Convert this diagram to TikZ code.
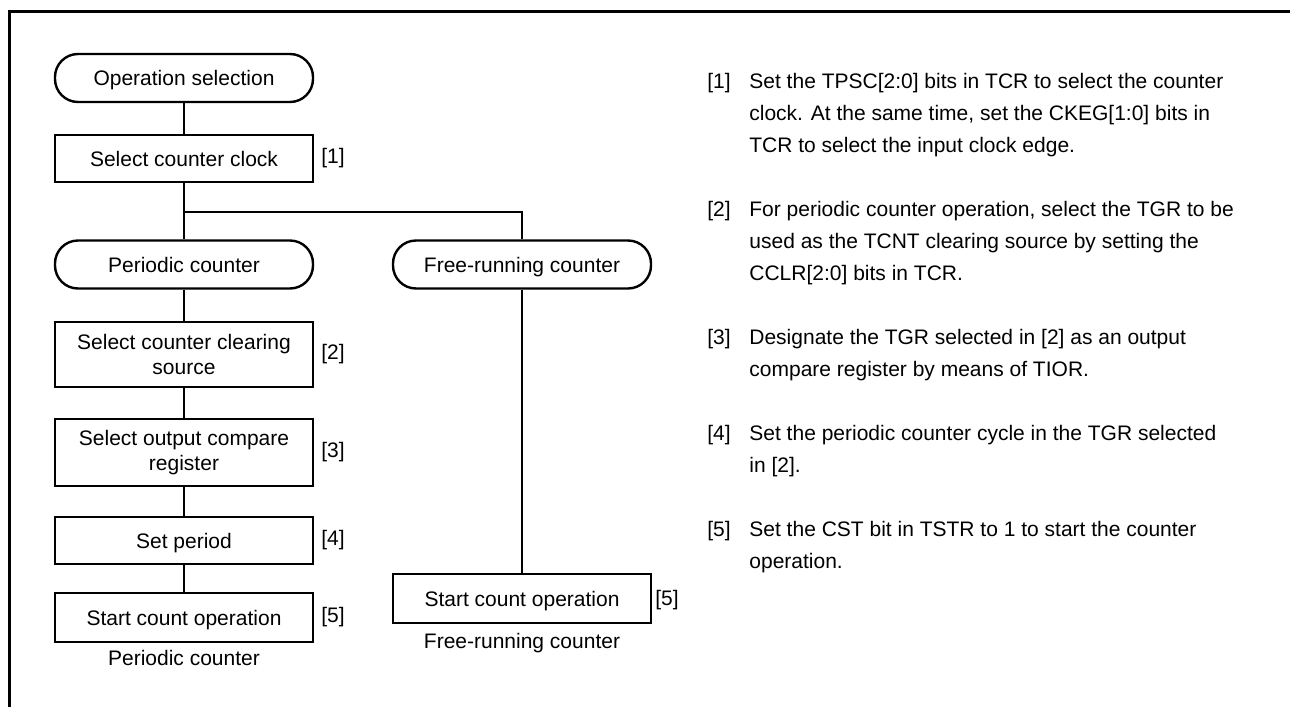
\documentclass[tikz,border=0pt]{standalone}
\usepackage{fontspec}
\setmainfont{Liberation Sans}
\usetikzlibrary{calc}
\tikzset{
  term/.style={draw, line width=1.2pt, rounded corners=11.5pt, minimum width=129pt, minimum height=24pt, inner sep=0pt, align=center, text height=7.5pt, text depth=0pt, font=\fontsize{10.5pt}{12.5pt}\selectfont},
  procbox/.style={draw, line width=1.2pt, minimum width=129pt, inner sep=0pt, align=center, font=\fontsize{10.5pt}{12.5pt}\selectfont},
  oneline/.style={text height=7.5pt, text depth=0pt},
  conn/.style={line width=0.6pt},
  tag/.style={anchor=west, inner sep=0pt, font=\fontsize{10.5pt}{12.5pt}\selectfont},
  captext/.style={inner sep=0pt, font=\fontsize{10.5pt}{12.5pt}\selectfont},
  note/.style={anchor=north west, inner sep=0pt, align=left, font=\fontsize{10.5pt}{16pt}\selectfont},
  frame/.style={line width=1.4pt}
}
\begin{document}
\begin{tikzpicture}[x=0.5pt,y=-0.5pt]
\useasboundingbox (0,0) rectangle (1290,707);
\draw[frame] (9.5,707) -- (9.5,11.5) -- (1290,11.5);

% left column
\node[term] (op) at (184,78) {Operation selection};
\node[procbox, oneline, minimum height=23.5pt] (clk) at (184,158.5) {Select counter clock};
\node[term] (per) at (184,264.5) {Periodic counter};
\node[procbox, minimum height=32.5pt] (clr) at (184,354.5) {Select counter clearing\\source};
\node[procbox, minimum height=33.5pt] (occ) at (184,452.5) {Select output compare\\register};
\node[procbox, oneline, minimum height=23.5pt] (prd) at (184,540.5) {Set period};
\node[procbox, oneline, minimum height=24.5pt] (stp) at (184,617.5) {Start count operation};
\node[captext] (cper) at (184,658) {Periodic counter};

% right column
\node[term] (fr) at (522,264.5) {Free-running counter};
\node[procbox, oneline, minimum height=24.5pt] (stf) at (522,598.5) {Start count operation};
\node[captext] (cfr) at (522,643) {Free-running counter};

% step tags
\node[tag] (t1) at (321,158.5) {[1]};
\node[tag] (t2) at (321,354.5) {[2]};
\node[tag] (t3) at (321,452.5) {[3]};
\node[tag] (t4) at (321,540.5) {[4]};
\node[tag] (t5) at (321,617.5) {[5]};
\node[tag] (t5f) at (655,600) {[5]};

% connectors
\coordinate (j) at (184,212);
\draw[conn] (op) -- (clk);
\draw[conn] (clk) -- (per);
\draw[conn] (j) -| (fr.north);
\draw[conn] (per) -- (clr);
\draw[conn] (clr) -- (occ);
\draw[conn] (occ) -- (prd);
\draw[conn] (prd) -- (stp);
\draw[conn] (fr) -- (stf);

% notes (top = first baseline - strut height 11.2pt = 22.4 units)
\node[note] (n1l) at (707,65.6) {\strut[1]};
\node[note] (n1) at (749,65.6) {\strut Set the TPSC[2:0] bits in TCR to select the counter\\clock. At the same time, set the CKEG[1:0] bits in\\TCR to select the input clock edge.};
\node[note] (n2l) at (707,193.6) {\strut[2]};
\node[note] (n2) at (749,193.6) {\strut For periodic counter operation, select the TGR to be\\used as the TCNT clearing source by setting the\\CCLR[2:0] bits in TCR.};
\node[note] (n3l) at (707,321.6) {\strut[3]};
\node[note] (n3) at (749,321.6) {\strut Designate the TGR selected in [2] as an output\\compare register by means of TIOR.};
\node[note] (n4l) at (707,417.6) {\strut[4]};
\node[note] (n4) at (749,417.6) {\strut Set the periodic counter cycle in the TGR selected\\in [2].};
\node[note] (n5l) at (707,513.6) {\strut[5]};
\node[note] (n5) at (749,513.6) {\strut Set the CST bit in TSTR to 1 to start the counter\\operation.};
\end{tikzpicture}
\end{document}
